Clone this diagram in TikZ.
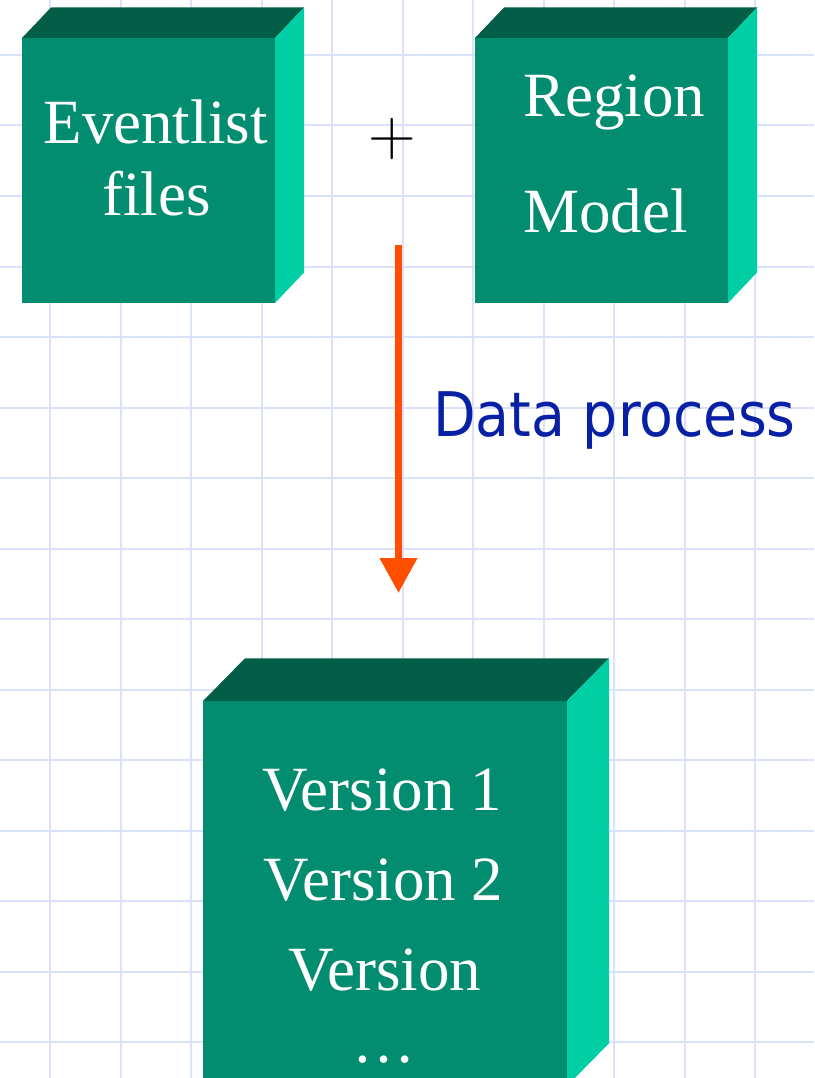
\documentclass[tikz,border=0pt]{standalone}
\usepackage{fontspec}
\usetikzlibrary{arrows.meta}
\newfontfamily\boxfont{Liberation Serif}
\newfontfamily\procfont[FakeStretch=0.90]{DejaVu Sans}
\newfontfamily\plusfont{Latin Modern Roman}

\definecolor{gridblue}{RGB}{218,226,250}
\definecolor{slabfront}{RGB}{2,140,112}
\definecolor{slabtop}{RGB}{3,94,72}
\definecolor{slabside}{RGB}{0,207,166}
\definecolor{flowred}{RGB}{255,78,0}
\definecolor{procblue}{RGB}{8,32,164}

% front face (x1,y1)-(x2,y2), depth dx/dy towards the upper right
\newcommand\drawslab[6]{%
  \fill[slabfront] (#1,#2) rectangle (#3,#4);
  \fill[slabtop] (#1,#2) -- ++(#5,-#6) -- (#3+#5,#2-#6) -- (#3,#2) -- cycle;
  \fill[slabside] (#3,#2) -- (#3+#5,#2-#6) -- (#3+#5,#4-#6) -- (#3,#4) -- cycle;
}

\tikzset{
  gridline/.style={draw=gridblue, line width=2pt},
  slabtext/.style={inner sep=0pt, text=white, font=\boxfont\fontsize{63}{63}\selectfont},
  flow/.style={draw=flowred, line width=7pt, -{Triangle[length=35pt,width=36pt]}},
  proclabel/.style={inner sep=0pt, text=procblue, font=\procfont\fontsize{61.5}{61.5}\selectfont},
}

\begin{document}
\begin{tikzpicture}[x=1pt,y=-1pt]
  \useasboundingbox (0,0) rectangle (814,1078);
  \clip (0,0) rectangle (814,1078);
  \fill[white] (0,0) rectangle (814,1078);

  % background grid
  \foreach \i in {0,...,10}
    \draw[gridline] ({50+70.5*\i},0) -- ({50+70.5*\i},1078);
  \foreach \j in {0,...,14}
    \draw[gridline] (0,{55+70.5*\j}) -- (814,{55+70.5*\j});

  % the three slabs
  \drawslab{22}{38}{275}{303}{29}{30.5}
  \drawslab{475}{38}{728}{303}{29}{30.5}
  \drawslab{203}{701}{567}{1086}{42}{42.7}

  % slab labels
  \node[slabtext, anchor=base] (events) at (155.5,144) {Eventlist};
  \node[slabtext, anchor=base] (files) at (156.5,215) {files};
  \node[slabtext, anchor=base west] (region) at (523,116.7) {Region};
  \node[slabtext, anchor=base west] (model) at (523,232) {Model};
  \node[slabtext, anchor=base] (v1) at (382,810) {Version 1};
  \node[slabtext, anchor=base] (v2) at (383.5,900) {Version 2};
  \node[slabtext, anchor=base] (vn) at (385,990) {Version};
  \node[slabtext, anchor=base] (dots) at (384,1062) {…};

  % plus sign between the inputs
  \node[inner sep=0pt, font=\plusfont\fontsize{66}{66}\selectfont] (plus) at (392,139) {+};

  % processing arrow
  \coordinate (flowstart) at (398.5,245);
  \coordinate (flowend) at (398.5,593);
  \draw[flow] (flowstart) -- (flowend);
  \node[proclabel, anchor=base west] (proc) at (433,436.7) {Data process};
\end{tikzpicture}
\end{document}
